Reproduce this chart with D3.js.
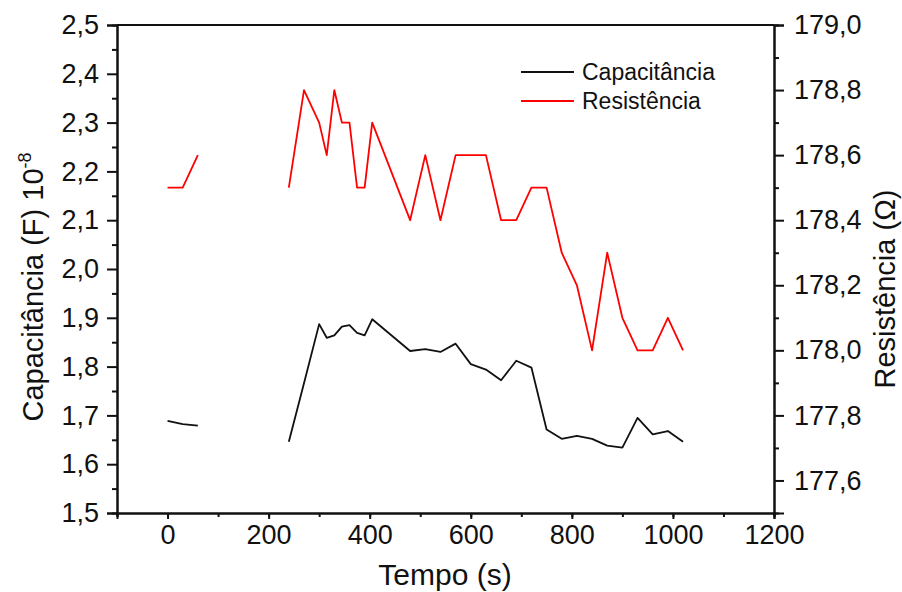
<!DOCTYPE html>
<html>
<head>
<meta charset="utf-8">
<script src="https://cdn.jsdelivr.net/npm/d3@7"></script>
<style>
  body { margin: 0; background: #fff; }
  svg { display: block; }
  text { font-family: "Liberation Sans", Arial, sans-serif; fill: #111; }
</style>
</head>
<body>
<svg id="chart" width="902" height="592"></svg>
<script>
// time (s); null marks the gap in the measurement
var tempo = [0, 30, 60, null, 240, 270, 300, 315, 330, 345, 360, 375, 390, 405,
  480, 510, 540, 570, 600, 630, 660, 690, 720, 750, 780, 810, 840, 870, 900,
  930, 960, 990, 1020];
var capacitancia = [1.689, 1.682, 1.679, null, 1.646, 1.766, 1.887, 1.859, 1.864,
  1.882, 1.885, 1.869, 1.864, 1.897, 1.832, 1.836, 1.830, 1.847, 1.805, 1.794,
  1.772, 1.812, 1.798, 1.671, 1.652, 1.658, 1.652, 1.638, 1.634, 1.695, 1.661,
  1.668, 1.646];
var resistencia = [178.5, 178.5, 178.6, null, 178.5, 178.8, 178.7, 178.6, 178.8,
  178.7, 178.7, 178.5, 178.5, 178.7, 178.4, 178.6, 178.4, 178.6, 178.6, 178.6,
  178.4, 178.4, 178.5, 178.5, 178.3, 178.2, 178.0, 178.3, 178.1, 178.0, 178.0,
  178.1, 178.0];

var xTicks = [0, 200, 400, 600, 800, 1000, 1200];
var capTicks = [1.5, 1.6, 1.7, 1.8, 1.9, 2.0, 2.1, 2.2, 2.3, 2.4, 2.5];
var resTicks = [177.6, 177.8, 178.0, 178.2, 178.4, 178.6, 178.8, 179.0];
var seriesNames = ["Capacitância", "Resistência"];
var seriesColors = ["#111111", "#ff0000"];

// plot frame
var plotLeft = 117, plotRight = 774, plotTop = 25, plotBottom = 513;

var svg = d3.select("#chart");

var x = d3.scaleLinear().domain([-100, 1200]).range([plotLeft, plotRight]);
var yCap = d3.scaleLinear().domain([1.5, 2.5]).range([plotBottom, plotTop]);
var yRes = d3.scaleLinear().domain([177.5, 179.0]).range([plotBottom, plotTop]);

function comma(d) { return d3.format(".1f")(d).replace(".", ","); }

// minor ticks first, then the labelled axis on top
var minorX = d3.axisBottom(x).tickValues(d3.range(-100, 1201, 100))
  .tickSize(4).tickFormat("");
svg.append("g").attr("transform", "translate(0," + plotBottom + ")").call(minorX);

var xAxis = d3.axisBottom(x).tickValues(xTicks).tickSize(6).tickPadding(6)
  .tickFormat(d3.format("d"));
svg.append("g").attr("class", "axis")
  .attr("transform", "translate(0," + plotBottom + ")").call(xAxis);

var minorCap = d3.axisLeft(yCap).tickValues(d3.range(1.55, 2.5, 0.1))
  .tickSize(5).tickFormat("");
svg.append("g").attr("transform", "translate(" + plotLeft + ",0)").call(minorCap);

var capAxis = d3.axisLeft(yCap).tickValues(capTicks).tickSize(10).tickPadding(8)
  .tickFormat(comma);
svg.append("g").attr("class", "axis")
  .attr("transform", "translate(" + plotLeft + ",0)").call(capAxis);

var minorRes = d3.axisRight(yRes).tickValues(d3.range(177.7, 179, 0.2))
  .tickSize(5).tickFormat("");
svg.append("g").attr("transform", "translate(" + plotRight + ",0)").call(minorRes);

var resAxis = d3.axisRight(yRes).tickValues(resTicks).tickSize(10).tickPadding(10)
  .tickFormat(comma);
svg.append("g").attr("class", "axis")
  .attr("transform", "translate(" + plotRight + ",0)").call(resAxis);

svg.selectAll("g").selectAll(".domain").attr("stroke", "#111").attr("stroke-width", 2);
svg.selectAll("g").selectAll(".tick line").attr("stroke", "#111").attr("stroke-width", 2);
svg.selectAll(".axis text").attr("font-size", "27px").attr("fill", "#111")
  .attr("font-family", "Liberation Sans, Arial, sans-serif");

// top frame line
svg.append("line")
  .attr("x1", plotLeft).attr("x2", plotRight).attr("y1", plotTop).attr("y2", plotTop)
  .attr("stroke", "#111").attr("stroke-width", 2);

// data lines
var idx = d3.range(tempo.length);
var capLine = d3.line()
  .defined(function(i) { return tempo[i] != null && capacitancia[i] != null; })
  .x(function(i) { return x(tempo[i]); })
  .y(function(i) { return yCap(capacitancia[i]); });
var resLine = d3.line()
  .defined(function(i) { return tempo[i] != null && resistencia[i] != null; })
  .x(function(i) { return x(tempo[i]); })
  .y(function(i) { return yRes(resistencia[i]); });

svg.append("path").attr("d", capLine(idx)).attr("fill", "none")
  .attr("stroke", seriesColors[0]).attr("stroke-width", 1.8)
  .attr("stroke-linejoin", "round");
svg.append("path").attr("d", resLine(idx)).attr("fill", "none")
  .attr("stroke", seriesColors[1]).attr("stroke-width", 1.8)
  .attr("stroke-linejoin", "round");

// legend
var legend = svg.append("g").attr("transform", "translate(521,72)");
var item = legend.selectAll("g").data(seriesNames).enter().append("g")
  .attr("transform", function(d, i) { return "translate(0," + (i * 29) + ")"; });
item.append("line").attr("x1", 0).attr("x2", 53)
  .attr("stroke", function(d, i) { return seriesColors[i]; })
  .attr("stroke-width", 1.8);
item.append("text").attr("x", 61).attr("y", 8).attr("font-size", "23px")
  .text(function(d) { return d; });

// axis titles
svg.append("text").attr("x", 445).attr("y", 585).attr("text-anchor", "middle")
  .attr("font-size", "30px").text("Tempo (s)");

var capTitle = svg.append("text")
  .attr("transform", "translate(43,287) rotate(-90)")
  .attr("text-anchor", "middle").attr("font-size", "29px");
capTitle.append("tspan").text("Capacitância (F) 10");
capTitle.append("tspan").attr("font-size", "18px").attr("dy", -12).text("-8");

svg.append("text")
  .attr("transform", "translate(895,289) rotate(-90)")
  .attr("text-anchor", "middle").attr("font-size", "29px")
  .text("Resistência (Ω)");
</script>
</body>
</html>
